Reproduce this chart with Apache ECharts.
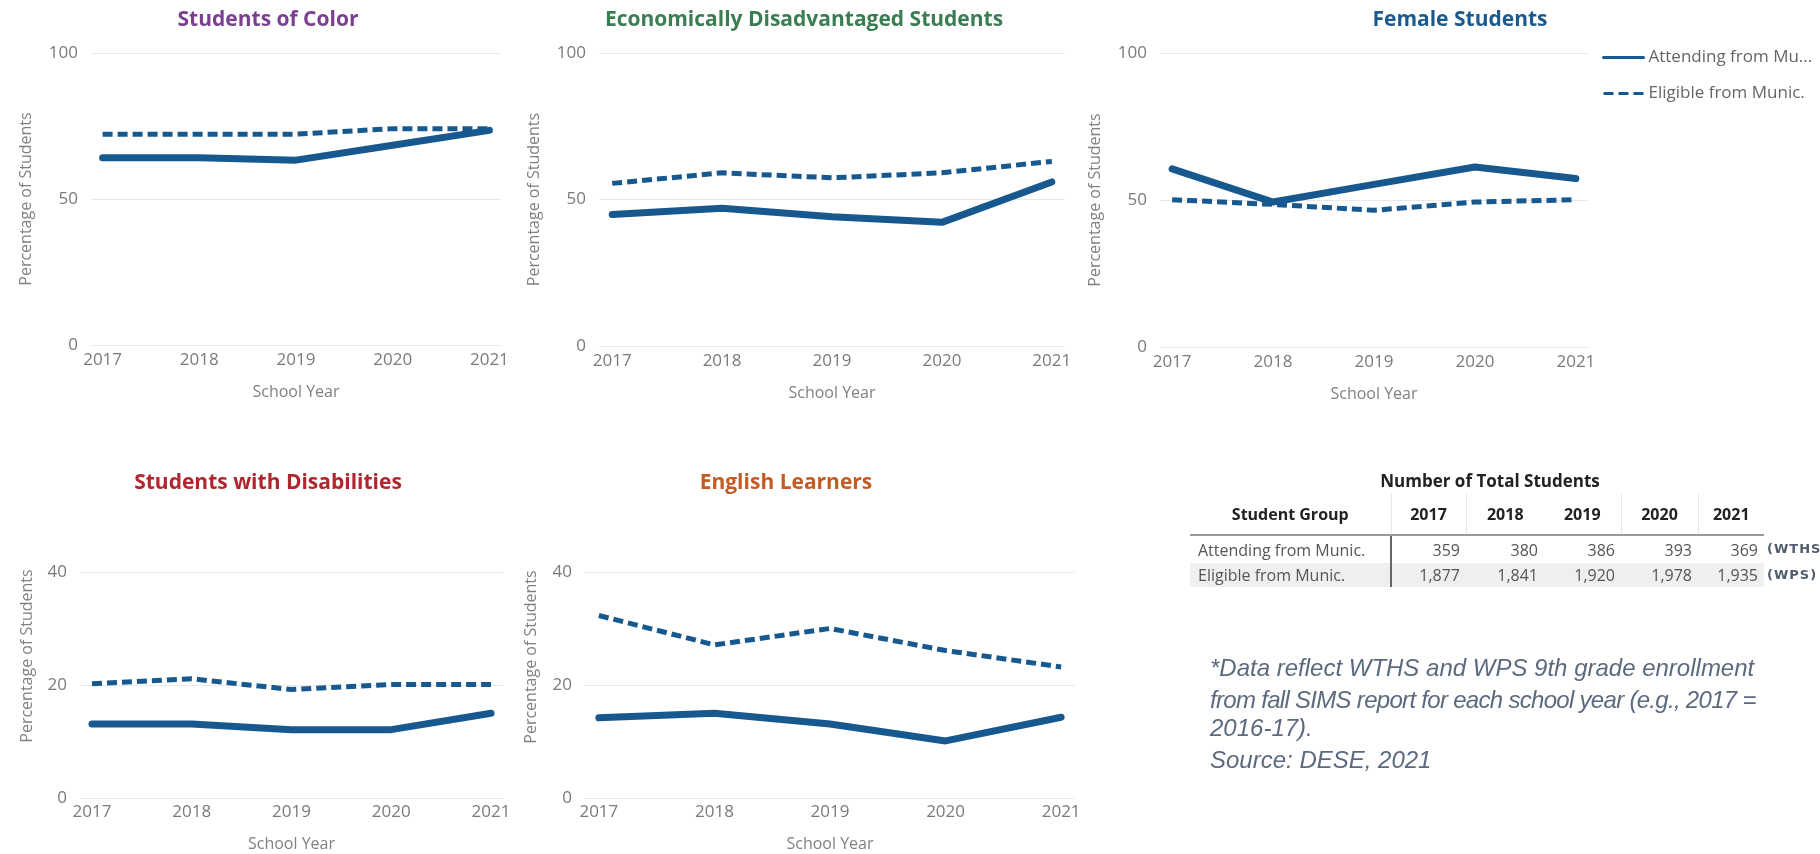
<!DOCTYPE html>
<html>
<head>
<meta charset="utf-8">
<script src="https://cdn.jsdelivr.net/npm/echarts@6/dist/echarts.min.js"></script>
<style>
html,body{margin:0;padding:0;background:#fff;}
#wrap{position:relative;width:1820px;height:854px;overflow:hidden;font-family:"Open Sans",sans-serif;background:#fff;}
#chart{position:absolute;left:0;top:0;width:1820px;height:854px;}
.abs{position:absolute;white-space:nowrap;}
#tblTitle{left:1290px;top:469px;width:400px;text-align:center;font-weight:bold;font-size:17px;line-height:24px;color:#222;}
#tbl{position:absolute;left:1190px;top:494px;border-collapse:collapse;font-size:16px;color:#555;table-layout:fixed;}
#tbl th{font-weight:bold;color:#222;height:40px;padding:0;text-align:center;border-right:1px solid #e6e6e6;border-bottom:2px solid #999;}
#tbl th.nob{border-right:none;}
#tbl td{padding:0 6px 0 0;text-align:right;}
#tbl td.lab{text-align:left;padding:0 0 0 8px;border-right:2px solid #666;}
#tbl tr.r1 td{height:27px;background:#fff;}
#tbl tr.r2 td{height:24px;background:#efefef;}
.suffix{font-family:"DejaVu Sans",sans-serif;font-weight:bold;font-size:13px;color:#4f5b6e;letter-spacing:1px;}
.note{font-family:"Liberation Sans",sans-serif;font-style:italic;font-size:24px;line-height:28px;color:#5b6a7e;}
</style>
</head>
<body>
<div id="wrap">
  <div id="chart"></div>
  <div id="tblTitle" class="abs">Number of Total Students</div>
  <table id="tbl"></table>
  <div id="sfx1" class="abs suffix" style="left:1767px;top:541px;">(WTHS</div>
  <div id="sfx2" class="abs suffix" style="left:1767px;top:567px;">(WPS)</div>
  <div class="abs note" style="left:1210px;top:654px;">*Data reflect WTHS and WPS 9th grade enrollment</div>
  <div class="abs note" style="left:1210px;top:686px;letter-spacing:-0.7px;">from fall SIMS report for each school year (e.g., 2017 =</div>
  <div class="abs note" style="left:1210px;top:714px;">2016-17).</div>
  <div class="abs note" style="left:1210px;top:746px;">Source: DESE, 2021</div>
</div>
<script>
// ---------- data ----------
const years = [2017, 2018, 2019, 2020, 2021];
const seriesNames = ['Attending from Munic.', 'Eligible from Munic.'];

const colorAttending = [64.1, 64.1, 63.3, 68.4, 73.5];
const colorEligible  = [72.2, 72.2, 72.2, 74.1, 74.1];

const econAttending = [44.9, 47.0, 44.1, 42.2, 56.0];
const econEligible  = [55.5, 59.1, 57.4, 59.1, 63.0];

const femaleAttending = [60.6, 49.3, 55.3, 61.2, 57.3];
const femaleEligible  = [50.1, 48.5, 46.5, 49.3, 50.1];

const swdAttending = [13.1, 13.1, 12.1, 12.1, 15.0];
const swdEligible  = [20.2, 21.1, 19.2, 20.1, 20.1];

const elAttending = [14.2, 15.0, 13.1, 10.1, 14.3];
const elEligible  = [32.3, 27.1, 30.0, 26.1, 23.2];

const tableGroups = ['Attending from Munic.', 'Eligible from Munic.'];
const totalAttending = [359, 380, 386, 393, 369];
const totalEligible  = [1877, 1841, 1920, 1978, 1935];

// ---------- table ----------
(function(){
  const t = document.getElementById('tbl');
  const colW = [201, 75, 78, 77, 77, 66];
  let h = '<colgroup>' + colW.map(w => '<col style="width:' + w + 'px">').join('') + '</colgroup>';
  h += '<tr><th>Student Group</th>' + years.map((y, i) => '<th' + (i === 1 || i === 4 ? ' class="nob"' : '') + '>' + y + '</th>').join('') + '</tr>';
  const fmt = v => v.toLocaleString('en-US');
  h += '<tr class="r1"><td class="lab">' + tableGroups[0] + '</td>' + totalAttending.map(v => '<td>' + fmt(v) + '</td>').join('') + '</tr>';
  h += '<tr class="r2"><td class="lab">' + tableGroups[1] + '</td>' + totalEligible.map(v => '<td>' + fmt(v) + '</td>').join('') + '</tr>';
  t.innerHTML = h;
})();

// ---------- charts ----------
const LINE = '#17598f';
const AXIS_NAME = 'Percentage of Students';
const panels = [
  {title: 'Students of Color', tcolor: '#7a3f91', att: colorAttending, eli: colorEligible,
   grid: {left: 91, top: 53, width: 410, height: 292}, ymax: 100, yint: 50, tx: 263, ty: 5, row: 1},
  {title: 'Economically Disadvantaged Students', tcolor: '#3b7d52', att: econAttending, eli: econEligible,
   grid: {left: 599, top: 53, width: 466, height: 293}, ymax: 100, yint: 50, tx: 799, ty: 5, row: 1},
  {title: 'Female Students', tcolor: '#1b5a8e', att: femaleAttending, eli: femaleEligible,
   grid: {left: 1160, top: 53, width: 428, height: 294}, ymax: 100, yint: 50, tx: 1455, ty: 5, row: 1},
  {title: 'Students with Disabilities', tcolor: '#b0262f', att: swdAttending, eli: swdEligible,
   grid: {left: 80, top: 572, width: 423, height: 226}, ymax: 40, yint: 20, tx: 263, ty: 468, row: 2, nx: 27, ny: 656},
  {title: 'English Learners', tcolor: '#c65a23', att: elAttending, eli: elEligible,
   grid: {left: 585, top: 572, width: 490, height: 226}, ymax: 40, yint: 20, tx: 781, ty: 468, row: 2, nx: 531, ny: 657}
];

const option = {
  animation: false,
  backgroundColor: '#fff',
  title: panels.map(p => ({
    text: p.title, left: p.tx, top: p.ty, textAlign: 'center',
    textStyle: {fontFamily: 'Open Sans', fontWeight: 'bold', fontSize: 21, color: p.tcolor}
  })),
  legend: {
    data: seriesNames, orient: 'vertical', left: 1597, top: 44,
    itemWidth: 40, itemHeight: 14, itemGap: 19,
    lineStyle: {width: 3},
    itemStyle: {opacity: 0},
    textStyle: {fontFamily: 'Open Sans', fontSize: 17, color: '#666', width: 172, overflow: 'truncate', ellipsis: '...'}
  },
  grid: panels.map(p => Object.assign({containLabel: false}, p.grid)),
  xAxis: panels.map((p, i) => ({
    type: 'value', gridIndex: i, min: 2016.88, max: 2021.12,
    axisLine: {show: false}, axisTick: {show: false}, splitLine: {show: false},
    axisLabel: {customValues: years,
      formatter: v => String(Math.round(v)), fontFamily: 'Open Sans', fontSize: 17, color: '#7a7a7a', margin: p.row === 1 ? 7 : 6},
    name: 'School Year', nameLocation: 'middle', nameGap: p.row === 1 ? 39 : 38,
    nameTextStyle: {fontFamily: 'Open Sans', fontSize: 16, color: '#808080'}
  })),
  yAxis: panels.map((p, i) => ({
    type: 'value', gridIndex: i, min: 0, max: p.ymax, interval: p.yint,
    axisLine: {show: false}, axisTick: {show: false},
    splitLine: {lineStyle: {color: '#e9e9e9', width: 1}},
    axisLabel: {fontFamily: 'Open Sans', fontSize: 17, color: '#7a7a7a', margin: 13},
    name: p.row === 1 ? AXIS_NAME : '', nameLocation: 'middle', nameGap: 57,
    nameTextStyle: {fontFamily: 'Open Sans', fontSize: 16, color: '#808080'}
  })),
  graphic: panels.filter(p => p.row === 2).map(p => ({
    type: 'text', x: p.nx, y: p.ny, rotation: Math.PI / 2, silent: true,
    style: {text: AXIS_NAME, align: 'center', verticalAlign: 'middle',
      font: '16px "Open Sans"', fill: '#808080'}
  })),
  series: []
};

panels.forEach((p, i) => {
  option.series.push({
    name: seriesNames[0], type: 'line', xAxisIndex: i, yAxisIndex: i,
    data: years.map((y, k) => [y, p.att[k]]),
    symbol: 'none', silent: true, color: LINE,
    lineStyle: {color: LINE, width: 7, cap: 'round', join: 'round'}
  });
  option.series.push({
    name: seriesNames[1], type: 'line', xAxisIndex: i, yAxisIndex: i,
    data: years.map((y, k) => [y, p.eli[k]]),
    symbol: 'none', silent: true, color: LINE,
    lineStyle: {color: LINE, width: 5, type: [10, 5], cap: 'butt', join: 'round'}
  });
});

const chart = echarts.init(document.getElementById('chart'), null, {renderer: 'canvas'});
chart.setOption(option);
</script>
</body>
</html>
